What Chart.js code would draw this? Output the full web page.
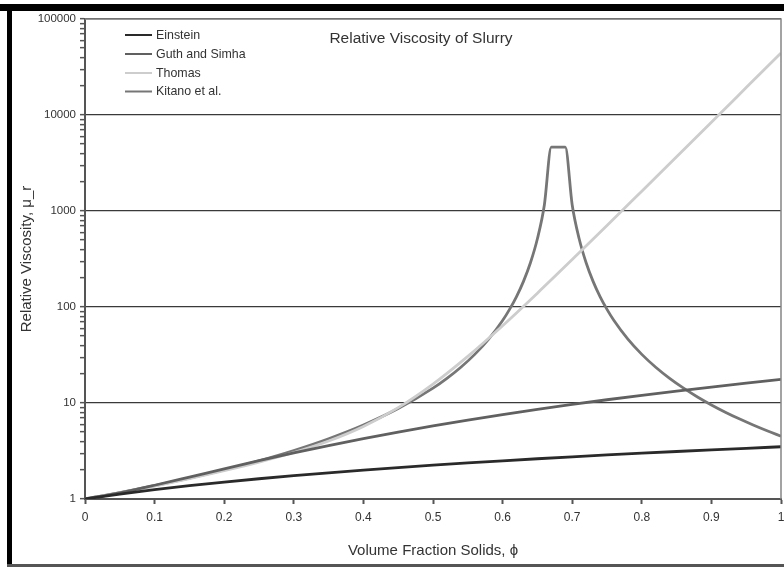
<!DOCTYPE html>
<html>
<head>
<meta charset="utf-8">
<script src="https://cdn.jsdelivr.net/npm/chart.js@4/dist/chart.umd.min.js"></script>
<style>
html,body{margin:0;padding:0;background:#fff;}
#wrap{width:784px;height:567px;position:relative;}
</style>
</head>
<body>
<div id="wrap"><canvas id="c" width="784" height="567"></canvas></div>
<script>
// ---- data ----
const chartTitle = 'Relative Viscosity of Slurry';
const xTitle = 'Volume Fraction Solids, \u03D5';
const yTitle = 'Relative Viscosity, \u03BC_r';
const seriesNames = ['Einstein', 'Guth and Simha', 'Thomas', 'Kitano et al.'];

const phi = [0,0.05,0.1,0.15,0.2,0.25,0.3,0.35,0.4,0.45,0.5,0.55,0.6,0.65,0.7,0.75,0.8,0.85,0.9,0.95,1.0];
const einstein = [1,1.125,1.25,1.375,1.5,1.625,1.75,1.875,2,2.125,2.25,2.375,2.5,2.625,2.75,2.875,3,3.125,3.25,3.375,3.5];
const guthSimha = [1,1.160,1.391,1.692,2.064,2.506,3.019,3.602,4.256,4.980,5.775,6.640,7.576,8.582,9.659,10.81,12.02,13.31,14.67,16.10,17.60];
const thomas = [1.003,1.156,1.365,1.634,1.978,2.426,3.052,4.017,5.697,8.950,15.75,30.61,63.89,139.4,311.6,705.3,1608,3675,8416,19290,44220];

const kitanoPhi = [0,0.05,0.1,0.15,0.2,0.25,0.3,0.35,0.4,0.45,0.5,0.52,0.54,0.56,0.58,0.6,0.61,0.62,0.63,0.64,0.65,0.66,0.67,0.69,0.7,0.71,0.72,0.73,0.74,0.75,0.76,0.78,0.8,0.82,0.84,0.86,0.88,0.9,0.92,0.94,0.96,0.98,1.0];
const kitano = [1,1.165,1.375,1.646,2.007,2.501,3.202,4.246,5.898,8.741,14.27,18.06,23.59,32.11,46.24,72.25,94.37,128.4,185.0,289.0,513.8,1156,4624,4624,1156,513.8,289.0,185.0,128.4,94.37,72.25,46.24,32.11,23.59,18.06,14.27,11.56,9.553,8.028,6.840,5.898,5.138,4.516];

const xTickValues = [0,0.1,0.2,0.3,0.4,0.5,0.6,0.7,0.8,0.9,1];
const xTickLabels = ['0','0.1','0.2','0.3','0.4','0.5','0.6','0.7','0.8','0.9','1'];
const yMajor = [1,10,100,1000,10000,100000];
const yTickLabels = ['1','10','100','1000','10000','100000'];
const yMinorMult = [2,3,4,5,6,7,8,9];

// ---- styles ----
const FONT = "'Liberation Sans', Arial, sans-serif";
const colors = ['#2a2a2a', '#606060', '#cdcdcd', '#767676'];

const pts = (xs, ys) => xs.map((x, i) => ({x: x, y: ys[i]}));
const yTickList = [];
yMajor.forEach((d, i) => {
  yTickList.push(d);
  if (i < yMajor.length - 1) yMinorMult.forEach(m => yTickList.push(d * m));
});

const decor = {
  id: 'decor',
  beforeDraw(chart) {
    const ctx = chart.ctx;
    ctx.save();
    ctx.fillStyle = '#fff';
    ctx.fillRect(0, 0, chart.width, chart.height);
    ctx.fillStyle = '#000';
    ctx.fillRect(0, 4, chart.width, 7);
    ctx.fillRect(7, 4, 5, chart.height - 4);
    ctx.fillStyle = '#555';
    ctx.fillRect(7, chart.height - 3, chart.width - 7, 3);
    ctx.restore();
  },
  afterDraw(chart) {
    const ctx = chart.ctx, a = chart.chartArea;
    ctx.save();
    ctx.strokeStyle = '#858585';
    ctx.lineWidth = 1.5;
    ctx.beginPath();
    ctx.moveTo(a.left, a.top);
    ctx.lineTo(a.right, a.top);
    ctx.lineTo(a.right, a.bottom);
    ctx.stroke();
    // title
    ctx.fillStyle = '#333';
    ctx.font = '15.5px ' + FONT;
    ctx.textAlign = 'center';
    ctx.textBaseline = 'alphabetic';
    ctx.fillText(chartTitle, 421, 42.5);
    // legend
    ctx.font = '12.4px ' + FONT;
    ctx.textAlign = 'left';
    ctx.textBaseline = 'middle';
    const ys = [35, 54, 73, 91.5];
    chart.data.datasets.forEach((ds, i) => {
      ctx.strokeStyle = ds.borderColor;
      ctx.lineWidth = 2;
      ctx.beginPath();
      ctx.moveTo(125, ys[i]);
      ctx.lineTo(152, ys[i]);
      ctx.stroke();
      ctx.fillStyle = '#333';
      ctx.fillText(ds.label, 156, ys[i] + 0.5);
    });
    ctx.restore();
  }
};

new Chart(document.getElementById('c'), {
  type: 'line',
  data: {
    datasets: [
      {label: seriesNames[0], data: pts(phi, einstein), borderColor: colors[0]},
      {label: seriesNames[1], data: pts(phi, guthSimha), borderColor: colors[1]},
      {label: seriesNames[2], data: pts(phi, thomas), borderColor: colors[2]},
      {label: seriesNames[3], data: pts(kitanoPhi, kitano), borderColor: colors[3]}
    ].map(d => Object.assign(d, {borderWidth: 2.8, pointRadius: 0, fill: false, cubicInterpolationMode: 'monotone'}))
  },
  options: {
    responsive: false,
    animation: false,
    devicePixelRatio: 1,
    layout: {padding: {left: 0, right: 3, top: 19, bottom: 0}},
    plugins: {legend: {display: false}, tooltip: {enabled: false}, title: {display: false}},
    scales: {
      x: {
        type: 'linear', min: 0, max: 1,
        afterBuildTicks: s => { s.ticks = xTickValues.map(v => ({value: v})); },
        afterFit: s => { s.height = 68; s.paddingLeft = 0; s.paddingRight = 0; },
        ticks: {autoSkip: false, maxRotation: 0, color: '#333', padding: 6,
          font: {family: FONT, size: 12},
          callback: (v, i) => xTickLabels[i]},
        grid: {drawOnChartArea: false, tickLength: 5, tickColor: '#555', tickWidth: 2},
        border: {color: '#555', width: 2},
        title: {display: true, text: xTitle, color: '#333', font: {family: FONT, size: 15}, padding: {top: 0, bottom: 7}}
      },
      y: {
        type: 'logarithmic', min: 1, max: 100000,
        afterBuildTicks: s => { s.ticks = yTickList.map(v => ({value: v, major: yMajor.includes(v)})); },
        afterFit: s => { s.width = 85; },
        ticks: {autoSkip: false, color: '#333', padding: 4,
          font: {family: FONT, size: 11.5},
          callback: v => { const k = yMajor.indexOf(v); return k >= 0 ? yTickLabels[k] : ''; }},
        grid: {
          color: c => (c.tick && yMajor.includes(c.tick.value)) ? '#3a3a3a' : 'rgba(0,0,0,0)',
          lineWidth: 1.3, tickLength: 5, tickColor: '#555', tickWidth: 1.5
        },
        border: {color: '#555', width: 2},
        title: {display: true, text: yTitle, color: '#333', font: {family: FONT, size: 15}, padding: {top: 18, bottom: 0}}
      }
    }
  },
  plugins: [decor]
});
</script>
</body>
</html>
